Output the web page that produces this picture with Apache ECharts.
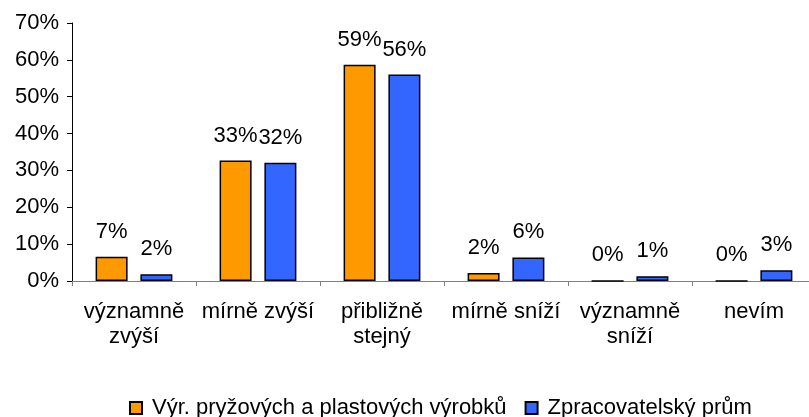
<!DOCTYPE html>
<html>
<head>
<meta charset="utf-8">
<script src="https://cdn.jsdelivr.net/npm/echarts@6/dist/echarts.min.js"></script>
<style>
  html, body { margin: 0; padding: 0; background: #fff; }
  #main { width: 809px; height: 417px; }
</style>
</head>
<body>
<div id="main"></div>
<script>
var categories = ['významně zvýší', 'mírně zvýší', 'přibližně stejný', 'mírně sníží', 'významně sníží', 'nevím'];
var seriesNames = ['Výr. pryžových a plastových výrobků', 'Zpracovatelský prům'];
var rubberValues = [6.6, 32.7, 58.7, 2.2, 0, 0];
var industryValues = [1.8, 32.1, 56.0, 6.4, 1.3, 2.9];
var yTicks = [0, 10, 20, 30, 40, 50, 60, 70];

var font = 'Liberation Sans, Arial, sans-serif';
var chart = echarts.init(document.getElementById('main'));

function barSeries(name, data, color) {
    return {
        name: name,
        type: 'bar',
        data: data,
        barWidth: 32,
        barGap: '40%',
        itemStyle: { color: color, borderColor: '#000', borderWidth: 1.5 },
        label: {
            show: true,
            position: 'top',
            distance: 14,
            color: '#000',
            fontFamily: font,
            fontSize: 22,
            formatter: function (p) { return Math.round(p.value) + '%'; }
        }
    };
}

// long names wrap onto two lines, like in the original
function wrapLabel(name) {
    return name.length > 12 ? name.replace(' ', '\n') : name;
}

var option = {
    animation: false,
    grid: { left: 72, top: 23, width: 744, bottom: 136, containLabel: false, outerBoundsMode: 'none' },
    legend: {
        left: 124,
        top: 392,
        itemWidth: 12,
        itemHeight: 12,
        itemGap: 18,
        icon: 'rect',
        textStyle: { fontFamily: font, fontSize: 22, color: '#000', padding: [0, 0, 0, 5] },
        data: seriesNames
    },
    xAxis: {
        type: 'category',
        data: categories,
        axisLine: { lineStyle: { color: '#808080', width: 1 } },
        axisTick: { show: true, length: 5, lineStyle: { color: '#808080' } },
        axisLabel: {
            interval: 0,
            margin: 18,
            color: '#000',
            fontFamily: font,
            fontSize: 22,
            lineHeight: 25,
            formatter: wrapLabel
        }
    },
    yAxis: {
        type: 'value',
        min: yTicks[0],
        max: yTicks[yTicks.length - 1],
        interval: 10,
        splitLine: { show: false },
        axisLine: { show: true, lineStyle: { color: '#000', width: 1 } },
        axisTick: { show: true, length: 5, lineStyle: { color: '#000' } },
        axisLabel: {
            margin: 13,
            color: '#000',
            fontFamily: font,
            fontSize: 22,
            formatter: '{value}%'
        }
    },
    series: [
        barSeries(seriesNames[0], rubberValues, '#FF9900'),
        barSeries(seriesNames[1], industryValues, '#3366FF')
    ]
};
chart.setOption(option);
</script>
</body>
</html>
